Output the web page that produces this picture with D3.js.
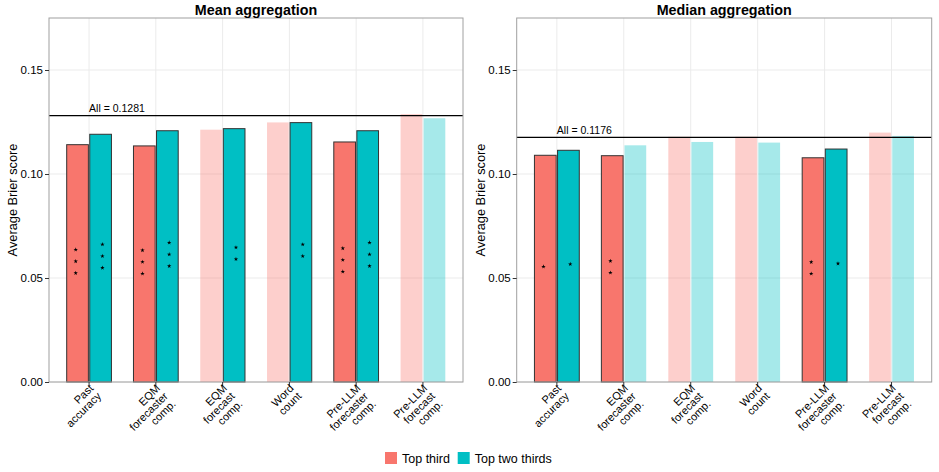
<!DOCTYPE html>
<html>
<head>
<meta charset="utf-8">
<script src="https://cdn.jsdelivr.net/npm/d3@7"></script>
<style>
  body { margin: 0; background: #fff; }
  text { font-family: "Liberation Sans", Arial, Helvetica, sans-serif; }
</style>
</head>
<body>
<div id="vis-container"></div>
<script>
// categories and values
var categories = ["Past\naccuracy", "EQM\nforecaster\ncomp.", "EQM\nforecast\ncomp.",
                  "Word\ncount", "Pre-LLM\nforecaster\ncomp.", "Pre-LLM\nforecast\ncomp."];
var groups = ["Top third", "Top two thirds"];
var colors = ["#F8766D", "#00BFC4"];
var yTicks = [0, 0.05, 0.10, 0.15];

var meanTop = [0.1141, 0.1135, 0.1213, 0.1248, 0.1154, 0.1288];
var meanTopTwo = [0.1191, 0.1208, 0.1218, 0.1247, 0.1208, 0.1268];
var meanTopStars = [3, 3, 0, 0, 3, 0];
var meanTopTwoStars = [3, 3, 2, 2, 3, 0];
var meanAll = 0.1281;

var medianTop = [0.1090, 0.1088, 0.1179, 0.1179, 0.1078, 0.1199];
var medianTopTwo = [0.1114, 0.1138, 0.1154, 0.1151, 0.1120, 0.1183];
var medianTopStars = [1, 2, 0, 0, 2, 0];
var medianTopTwoStars = [1, 0, 0, 0, 1, 0];
var medianAll = 0.1176;

var width = 939, height = 472;
var svg = d3.select("#vis-container").append("svg")
    .attr("width", width)
    .attr("height", height);

var y = d3.scaleLinear().domain([0, 0.175]).range([382, 18]);
var star = d3.symbol().type(d3.symbolStar).size(6);

function buildRows(top, topTwo, topStars, topTwoStars) {
    var rows = [];
    categories.forEach(function(c, i) {
        rows.push({cat: c, group: groups[0], value: top[i], stars: topStars[i]});
        rows.push({cat: c, group: groups[1], value: topTwo[i], stars: topTwoStars[i]});
    });
    return rows;
}

function drawPanel(left, right, title, rows, allValue) {
    var g = svg.append("g");
    var x = d3.scalePoint().domain(categories).range([left, right]).padding(0.6);
    var step = x.step();
    var xBar = d3.scaleBand().domain(groups).range([-0.335 * step, 0.335 * step]).paddingInner(0.06);
    var xStar = d3.scalePoint().domain(groups).range([-0.2 * step, 0.2 * step]);
    var color = d3.scaleOrdinal().domain(groups).range(colors);

    // grid
    g.selectAll(".gy").data(yTicks).enter().append("line")
        .attr("x1", left).attr("x2", right)
        .attr("y1", d => y(d)).attr("y2", d => y(d))
        .attr("stroke", "#ebebeb").attr("stroke-width", 1);
    g.selectAll(".gx").data(categories).enter().append("line")
        .attr("x1", d => x(d)).attr("x2", d => x(d))
        .attr("y1", y.range()[1]).attr("y2", y.range()[0])
        .attr("stroke", "#ebebeb").attr("stroke-width", 1);

    // bars
    g.selectAll(".bar").data(rows).enter().append("rect")
        .attr("x", d => x(d.cat) + xBar(d.group))
        .attr("width", xBar.bandwidth())
        .attr("y", d => y(d.value))
        .attr("height", d => y(0) - y(d.value))
        .attr("fill", d => color(d.group))
        .attr("fill-opacity", d => d.stars > 0 ? 1 : 0.35)
        .attr("stroke", d => d.stars > 0 ? "#333" : "none")
        .attr("stroke-width", 1);

    // significance stars
    rows.forEach(function(d) {
        for (var k = 0; k < d.stars; k++) {
            var cy = y(d.value / 2) - 2 + (k - (d.stars - 1) / 2) * 11.7;
            g.append("path")
                .attr("d", star)
                .attr("transform", "translate(" + (x(d.cat) + xStar(d.group)) + "," + cy + ")")
                .attr("fill", "#000");
        }
    });

    // reference line
    g.append("line")
        .attr("x1", left).attr("x2", right)
        .attr("y1", y(allValue)).attr("y2", y(allValue))
        .attr("stroke", "#000").attr("stroke-width", 1.2);
    g.append("text")
        .attr("x", x(categories[0]))
        .attr("y", y(allValue) - 3.5)
        .attr("font-size", 10.5)
        .text("All = " + allValue.toFixed(4));

    // border
    g.append("rect")
        .attr("x", left).attr("y", y.range()[1])
        .attr("width", right - left).attr("height", y.range()[0] - y.range()[1])
        .attr("fill", "none").attr("stroke", "#a0a0a0").attr("stroke-width", 1);

    // y axis
    var yAxis = g.append("g")
        .attr("transform", "translate(" + left + ",0)")
        .call(d3.axisLeft(y).tickValues(yTicks).tickFormat(d3.format(".2f")).tickSize(4).tickPadding(2));
    yAxis.select(".domain").remove();
    yAxis.selectAll("line").attr("stroke", "#333");
    yAxis.selectAll("text").attr("font-size", 11.5).attr("fill", "#000")
        .attr("font-family", "'Liberation Sans', Arial, sans-serif");

    // x axis ticks
    g.selectAll(".xt").data(categories).enter().append("line")
        .attr("x1", d => x(d)).attr("x2", d => x(d))
        .attr("y1", y(0)).attr("y2", y(0) + 4)
        .attr("stroke", "#333");

    // rotated multi-line labels
    categories.forEach(function(c) {
        var lines = c.split("\n");
        var t = g.append("text")
            .attr("transform", "translate(" + (x(c) - 1) + "," + (y(0) + 1) + ") rotate(-45)")
            .attr("text-anchor", "end")
            .attr("font-size", 11);
        lines.forEach(function(l, i) {
            t.append("tspan").attr("x", 0).attr("y", 8.5 + i * 11).text(l);
        });
    });

    // y title
    g.append("text")
        .attr("transform", "translate(" + (left - 32) + "," + ((y.range()[0] + y.range()[1]) / 2) + ") rotate(-90)")
        .attr("text-anchor", "middle")
        .attr("font-size", 12.8)
        .text("Average Brier score");

    // title
    g.append("text")
        .attr("x", (left + right) / 2)
        .attr("y", 14.5)
        .attr("text-anchor", "middle")
        .attr("font-size", 14.3)
        .attr("font-weight", "bold")
        .text(title);
}

drawPanel(49, 463, "Mean aggregation", buildRows(meanTop, meanTopTwo, meanTopStars, meanTopTwoStars), meanAll);
drawPanel(516.7, 931.7, "Median aggregation", buildRows(medianTop, medianTopTwo, medianTopStars, medianTopTwoStars), medianAll);

// legend
var legend = svg.append("g").attr("transform", "translate(385,452)");
var legendX = [0, 72.7];
groups.forEach(function(gname, i) {
    legend.append("rect")
        .attr("x", legendX[i]).attr("y", 0)
        .attr("width", 12).attr("height", 12)
        .attr("fill", colors[i]);
    legend.append("text")
        .attr("x", legendX[i] + 17).attr("y", 10.5)
        .attr("font-size", 12.5)
        .text(gname);
});
</script>
</body>
</html>
